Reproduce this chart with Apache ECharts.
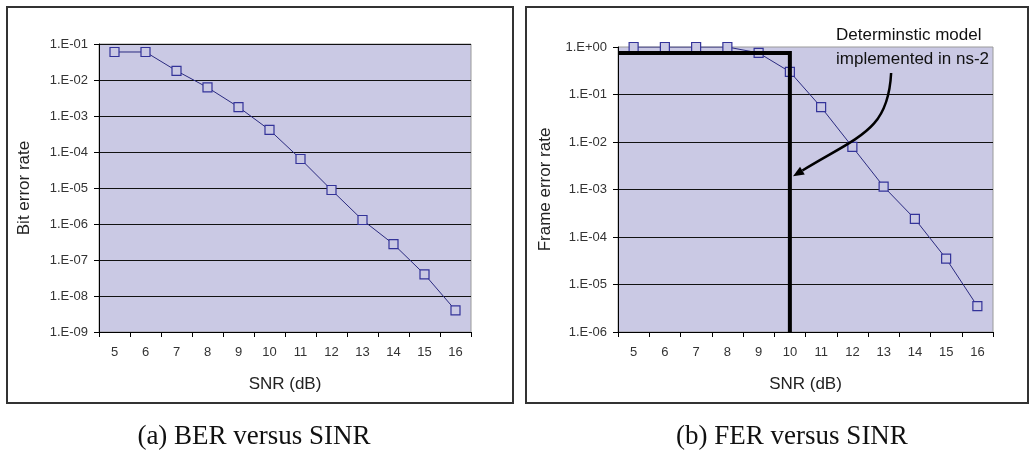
<!DOCTYPE html>
<html><head><meta charset="utf-8">
<script src="https://cdn.jsdelivr.net/npm/echarts@6/dist/echarts.min.js"></script>
<style>html,body{margin:0;padding:0;background:#fff;}#c{width:1031px;height:456px;}</style>
</head><body><div id="c"></div>
<script>
// ---- data ----
const snrCategories = ['5','6','7','8','9','10','11','12','13','14','15','16'];
const berValues = [6.0e-2, 6.0e-2, 1.8e-2, 6.2e-3, 1.77e-3, 4.1e-4, 6.4e-5, 8.8e-6, 1.29e-6, 2.75e-7, 4.0e-8, 4.0e-9];
const ferValues = [1.0, 1.0, 1.0, 1.0, 0.75, 0.30, 0.054, 0.0079, 1.15e-3, 2.4e-4, 3.5e-5, 3.5e-6];
const deterministicModel = [[4.5, 0.75], [10, 0.75], [10, 1e-6]];
const berRange = [1e-9, 1e-1];
const ferRange = [1e-6, 1];
const captions = ['(a) BER versus SINR', '(b) FER versus SINR'];
const yAxisNames = ['Bit error rate', 'Frame error rate'];
const xAxisName = 'SNR (dB)';
const annotationLines = ['Determinstic model', 'implemented in ns-2'];
// annotation arrow in data coordinates (SNR, FER): start, control1, control2, tip
const arrowPath = [[13.24, 0.284], [13.15, 0.0176], [12.25, 0.0138], [10.1, 1.9e-3]];

// ---- styles ----
const FONT = 'Liberation Sans, Arial, sans-serif';
const PLOT_BG = '#CAC9E4';
const NAVY = '#2A2A80';
const MARK = '#333399';

function sciLabel(v) {
  const e = Math.round(Math.log10(v));
  return '1.E' + (e < 0 ? '-' : '+') + String(Math.abs(e)).padStart(2, '0');
}

function catAxis(gridIndex) {
  return {
    type: 'category', gridIndex, data: snrCategories, boundaryGap: true,
    axisLine: { lineStyle: { color: '#000', width: 1 } },
    axisTick: { show: true, length: 5, lineStyle: { color: '#000' } },
    axisLabel: { margin: 14, fontSize: 13, color: '#333', fontFamily: FONT },
    splitLine: { show: false },
    name: xAxisName, nameLocation: 'middle', nameGap: 44,
    nameTextStyle: { fontSize: 17, color: '#222', fontFamily: FONT }
  };
}
function logAxis(gridIndex, range, name, gap) {
  return {
    type: 'log', logBase: 10, gridIndex, min: range[0], max: range[1],
    axisLine: { show: true, lineStyle: { color: '#000', width: 1 } },
    axisTick: { show: true, length: 5, lineStyle: { color: '#000' } },
    axisLabel: { margin: 11, fontSize: 13, color: '#333', fontFamily: FONT, formatter: sciLabel },
    splitLine: { show: true, showMaxLine: false, lineStyle: { color: '#111', width: 1 } },
    minorTick: { show: false }, minorSplitLine: { show: false },
    name: name, nameLocation: 'middle', nameGap: gap, nameRotate: 90,
    nameTextStyle: { fontSize: 17, color: '#222', fontFamily: FONT }
  };
}
function curve(name, xi, yi, values) {
  return {
    name, type: 'line', xAxisIndex: xi, yAxisIndex: yi, data: values,
    symbol: 'rect', symbolSize: 9, showAllSymbol: true,
    lineStyle: { color: NAVY, width: 1 },
    itemStyle: { color: PLOT_BG, borderColor: MARK, borderWidth: 1.2 },
    emphasis: { disabled: true }, animation: false, z: 3
  };
}

const chart = echarts.init(document.getElementById('c'), null, { renderer: 'canvas' });
const baseGraphics = [
  { type: 'rect', shape: { x: 7, y: 7, width: 506, height: 396 }, style: { fill: 'none', stroke: '#333', lineWidth: 2 }, z: 0 },
  { type: 'rect', shape: { x: 526, y: 7, width: 502, height: 396 }, style: { fill: 'none', stroke: '#333', lineWidth: 2 }, z: 0 },
  { type: 'text', x: 254, y: 437, style: { text: captions[0], font: '27px "Liberation Serif", serif', fill: '#111', align: 'center', verticalAlign: 'middle' } },
  { type: 'text', x: 792, y: 437, style: { text: captions[1], font: '27px "Liberation Serif", serif', fill: '#111', align: 'center', verticalAlign: 'middle' } },
  { type: 'text', x: 836, y: 35, style: { text: annotationLines[0], font: '17px "Liberation Sans", Arial, sans-serif', fill: '#111', align: 'left', verticalAlign: 'middle' }, z: 10 },
  { type: 'text', x: 836, y: 59, style: { text: annotationLines[1], font: '17px "Liberation Sans", Arial, sans-serif', fill: '#111', align: 'left', verticalAlign: 'middle' }, z: 10 }
];

chart.setOption({
  animation: false,
  backgroundColor: '#fff',
  grid: [
    { left: 99, top: 44, width: 372, height: 288, show: true, backgroundColor: PLOT_BG, borderColor: '#9a9a9a', borderWidth: 1 },
    { left: 618, top: 47, width: 375, height: 285, show: true, backgroundColor: PLOT_BG, borderColor: '#9a9a9a', borderWidth: 1 }
  ],
  xAxis: [
    catAxis(0),
    catAxis(1),
    { type: 'value', gridIndex: 1, min: 4.5, max: 16.5, show: false }
  ],
  yAxis: [
    logAxis(0, berRange, yAxisNames[0], 66),
    logAxis(1, ferRange, yAxisNames[1], 64)
  ],
  series: [
    curve('BER', 0, 0, berValues),
    curve('FER', 1, 1, ferValues),
    {
      name: 'Deterministic model', type: 'line', xAxisIndex: 2, yAxisIndex: 1,
      data: deterministicModel, symbol: 'none', clip: false,
      lineStyle: { color: '#000', width: 4, cap: 'butt', join: 'miter' },
      emphasis: { disabled: true }, z: 5
    }
  ],
  graphic: baseGraphics
});

// annotation arrow, anchored in data coordinates
const px = arrowPath.map(p => chart.convertToPixel({ xAxisIndex: 2, yAxisIndex: 1 }, p));
const tip = px[3], c2 = px[2];
let dx = tip[0] - c2[0], dy = tip[1] - c2[1];
const L = Math.hypot(dx, dy); dx /= L; dy /= L;
const headLen = 11, headW = 4.5;
const base = [tip[0] - dx * headLen, tip[1] - dy * headLen];
const nx = -dy, ny = dx;
chart.setOption({
  graphic: baseGraphics.concat([
    { type: 'bezierCurve', shape: { x1: px[0][0], y1: px[0][1], cpx1: px[1][0], cpy1: px[1][1], cpx2: px[2][0], cpy2: px[2][1], x2: base[0], y2: base[1] },
      style: { fill: 'none', stroke: '#000', lineWidth: 2.5 }, z: 10 },
    { type: 'polygon', shape: { points: [tip, [base[0] + nx * headW, base[1] + ny * headW], [base[0] - nx * headW, base[1] - ny * headW]] },
      style: { fill: '#000' }, z: 10 }
  ])
}, { replaceMerge: ['graphic'] });
</script>
</body></html>
